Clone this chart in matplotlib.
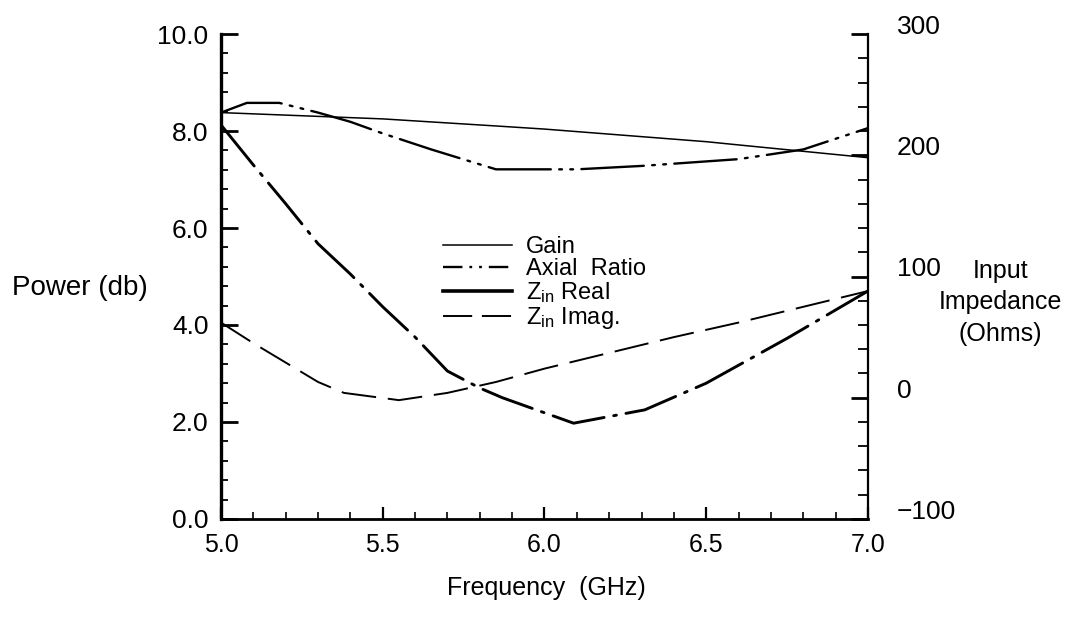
import matplotlib
matplotlib.use("Agg")
import matplotlib.pyplot as plt
import matplotlib.transforms as mtransforms
from matplotlib import font_manager
from matplotlib.lines import Line2D
from matplotlib.ticker import MultipleLocator, FormatStrFormatter

# --- data ------------------------------------------------------------------
# left axis: Power (db)
gain_freq = [5.0, 5.5, 5.86, 6.0, 6.5, 6.62, 7.0]
gain_db = [8.38, 8.25, 8.10, 8.04, 7.78, 7.70, 7.45]

axial_freq = [5.0, 5.08, 5.18, 5.30, 5.40, 5.50, 5.65, 5.85, 6.10, 6.30, 6.60, 6.80, 7.0]
axial_db = [8.38, 8.58, 8.58, 8.38, 8.19, 7.95, 7.62, 7.21, 7.21, 7.28, 7.42, 7.62, 8.06]

# right axis: Input Impedance (Ohms)
zreal_freq = [5.0, 5.1, 5.2, 5.3, 5.4, 5.5, 5.6, 5.7, 5.8, 5.87, 6.09, 6.31, 6.5, 6.75, 7.0]
zreal_ohm = [225, 192, 160, 127, 102, 75, 50, 22, 8, 0, -21, -10, 12, 49, 88]

zimag_freq = [5.0, 5.1, 5.2, 5.3, 5.38, 5.55, 5.7, 5.85, 6.0, 6.2, 6.4, 6.6, 6.8, 7.0]
zimag_ohm = [62, 45, 29, 13, 4, -2, 4, 13, 24, 37, 50, 62, 75, 88]

labels = ["Gain", "Axial  Ratio", r"$\mathregular{Z_{in}}$ Real", r"$\mathregular{Z_{in}}$ Imag."]

# --- fonts -------------------------------------------------------------------
_names = {f.name for f in font_manager.fontManager.ttflist}
PLAIN = "Liberation Sans" if "Liberation Sans" in _names else "DejaVu Sans"
plt.rcParams["font.family"] = [PLAIN, "DejaVu Sans"]
plt.rcParams["mathtext.fontset"] = "custom"
plt.rcParams["mathtext.rm"] = PLAIN
plt.rcParams["lines.scale_dashes"] = False

fig = plt.figure(figsize=(10.77, 6.21), dpi=100)
ax = fig.add_axes([0.2052, 0.1643, 0.6007, 0.7809])
ax2 = ax.twinx()

# curves (dash patterns in points, mimicking the scanned plot)
ax.plot(gain_freq, gain_db, color="black", lw=1.1, solid_joinstyle="round")
ax.plot(axial_freq, axial_db, color="black", lw=1.7,
        dashes=(45, 6, 2, 6, 2, 6), dash_capstyle="round")
ax2.plot(zreal_freq, zreal_ohm, color="black", lw=2.1,
         dashes=(38, 7, 2, 7), dash_capstyle="round")
ax2.plot(zimag_freq, zimag_ohm, color="black", lw=1.4, dashes=(25, 8.5))

ax.set_xlim(5.0, 7.0)
ax.set_ylim(0.0, 10.0)
ax2.set_ylim(-100, 300)

for a in (ax, ax2):
    a.spines["top"].set_visible(False)
    a.patch.set_visible(False)
ax.spines["right"].set_visible(False)
ax2.spines["left"].set_visible(False)
ax2.spines["bottom"].set_visible(False)
ax.spines["left"].set_linewidth(2.4)
ax.spines["bottom"].set_linewidth(2.0)
ax2.spines["right"].set_linewidth(1.6)

ax.xaxis.set_major_locator(MultipleLocator(0.5))
ax.xaxis.set_minor_locator(MultipleLocator(0.1))
ax.xaxis.set_major_formatter(FormatStrFormatter("%.1f"))
ax.yaxis.set_major_locator(MultipleLocator(2.0))
ax.yaxis.set_minor_locator(MultipleLocator(0.4))
ax.yaxis.set_major_formatter(FormatStrFormatter("%.1f"))
ax2.yaxis.set_major_locator(MultipleLocator(100))
ax2.yaxis.set_minor_locator(MultipleLocator(20))

ax.tick_params(axis="x", which="major", direction="in", length=9, width=1.6,
               pad=10, labelsize=18)
ax.tick_params(axis="x", which="minor", direction="in", length=5, width=1.2)
ax.tick_params(axis="y", which="major", direction="in", length=12, width=2.0,
               pad=9, labelsize=19)
ax.tick_params(axis="y", which="minor", direction="in", length=5, width=1.3)
ax2.tick_params(axis="y", which="major", direction="in", length=12, width=2.0,
                pad=21, labelsize=19)
ax2.tick_params(axis="y", which="minor", direction="in", length=7, width=1.3)

# right-hand labels sit a little above their ticks in the reference
lift = mtransforms.ScaledTranslation(0, 7 / 72, fig.dpi_scale_trans)
for t in ax2.yaxis.get_major_ticks():
    t.label2.set_transform(t.label2.get_transform() + lift)

fig.text(0.074, 0.537, "Power (db)", ha="center", va="center", fontsize=20)
fig.text(0.929, 0.513, "Input\nImpedance\n(Ohms)", ha="center", va="center",
         fontsize=18, linespacing=1.38)
fig.text(0.507, 0.053, "Frequency  (GHz)", ha="center", va="center", fontsize=18)

handles = [
    Line2D([], [], color="black", lw=1.1),
    Line2D([], [], color="black", lw=1.7, dashes=(14, 5, 2, 5, 2, 5)),
    Line2D([], [], color="black", lw=2.6),
    Line2D([], [], color="black", lw=1.4, dashes=(21, 7)),
]
ax.legend(handles, labels, loc="upper left", bbox_to_anchor=(0.318, 0.617),
          frameon=False, fontsize=17, handlelength=2.9, handletextpad=0.6,
          labelspacing=0.0, borderpad=0.2)

fig.savefig("out.png", dpi=100)
